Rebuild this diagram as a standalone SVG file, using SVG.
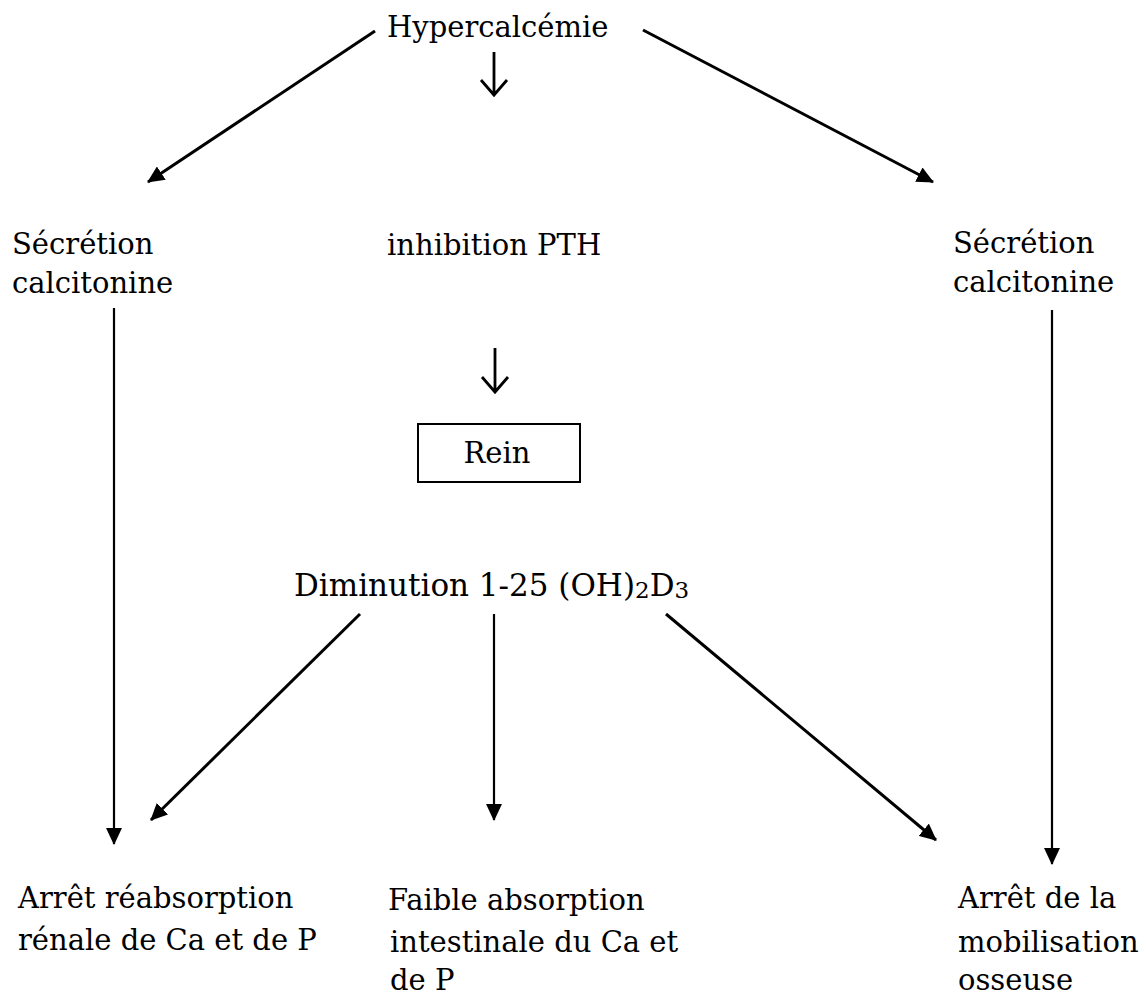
<svg xmlns="http://www.w3.org/2000/svg" width="1148" height="997" viewBox="0 0 1148 997">
<style>
text{font-family:"DejaVu Serif","Liberation Serif",serif;font-size:29px;fill:#000}
.c{stroke:#000;stroke-width:3;fill:none}
.v{stroke:#000;stroke-width:2.2;fill:none}
.ch{stroke:#000;stroke-width:2.8;fill:none}
.big{font-size:31px}
.sub{font-size:23px}
</style>
<defs>
<marker id="ah" markerWidth="18" markerHeight="16" refX="16" refY="8" orient="auto" markerUnits="userSpaceOnUse">
<path d="M0,0 L17,8 L0,16 Z" fill="#000"/>
</marker>
</defs>
<rect width="1148" height="997" fill="#fff"/>
<g id="connectors">
<line class="c" x1="375" y1="31" x2="148" y2="182" marker-end="url(#ah)"/>
<line class="c" x1="643" y1="30" x2="933" y2="182" marker-end="url(#ah)"/>
<path class="ch" d="M494,52 V95 M481,80 L494,95 L507,80"/>
<path class="ch" d="M495,348 V392 M482,377 L495,392 L508,377"/>
<line class="v" x1="114" y1="308" x2="114" y2="844" marker-end="url(#ah)"/>
<line class="v" x1="1052" y1="310" x2="1052" y2="864" marker-end="url(#ah)"/>
<line class="c" x1="360" y1="614" x2="151" y2="820" marker-end="url(#ah)"/>
<line class="v" x1="494" y1="614" x2="494" y2="820" marker-end="url(#ah)"/>
<line class="c" x1="666" y1="614" x2="936" y2="840" marker-end="url(#ah)"/>
</g>
<g id="hypercalcemie"><text x="387" y="37">Hypercalcémie</text></g>
<g id="secretion-left"><text x="12" y="254">Sécrétion</text><text x="12" y="293">calcitonine</text></g>
<g id="inhibition"><text x="387" y="255">inhibition PTH</text></g>
<g id="secretion-right"><text x="953" y="253">Sécrétion</text><text x="953" y="292">calcitonine</text></g>
<g id="rein"><rect x="418" y="424" width="162" height="58" fill="none" stroke="#000" stroke-width="2"/><text x="497" y="463" text-anchor="middle">Rein</text></g>
<g id="diminution"><text class="big" x="294" y="596">Diminution 1-25 (OH)<tspan class="sub" dy="2">2</tspan><tspan dy="-2">D</tspan><tspan class="sub" dy="2">3</tspan></text></g>
<g id="arret-reabsorption"><text x="18" y="908">Arrêt réabsorption</text><text x="18" y="950">rénale de Ca et de P</text></g>
<g id="faible-absorption"><text x="388" y="910">Faible absorption</text><text x="390" y="952">intestinale du Ca et</text><text x="390" y="990">de P</text></g>
<g id="arret-mobilisation"><text x="958" y="908">Arrêt de la</text><text x="958" y="952">mobilisation</text><text x="958" y="990">osseuse</text></g>
</svg>
